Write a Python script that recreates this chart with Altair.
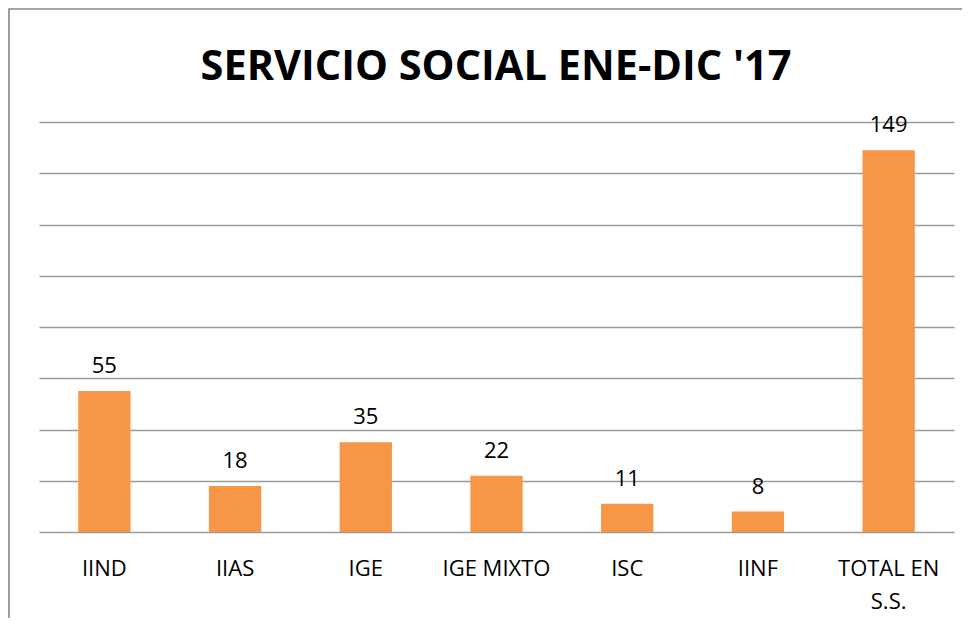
import altair as alt
import pandas as pd

categories = ["IIND", "IIAS", "IGE", "IGE MIXTO", "ISC", "IINF", "TOTAL EN S.S."]
values = [55, 18, 35, 22, 11, 8, 149]
grid_values = [0, 20, 40, 60, 80, 100, 120, 140, 160]
title_text = "SERVICIO SOCIAL ENE-DIC '17"

df = pd.DataFrame({"cat": categories, "val": values})

FONT = "Open Sans"

x_enc = alt.X(
    "cat:N",
    sort=categories,
    scale=alt.Scale(paddingInner=0.6, paddingOuter=0.3),
    axis=alt.Axis(
        title=None,
        ticks=False,
        tickSize=0,
        domain=False,
        grid=False,
        labelAngle=0,
        labelFont=FONT,
        labelFontSize=22,
        labelColor="#000000",
        labelPadding=26,
        labelLineHeight=33,
        labelExpr="datum.label == 'TOTAL EN S.S.' ? ['TOTAL EN', 'S.S.'] : datum.label",
    ),
)
y_enc = alt.Y(
    "val:Q",
    scale=alt.Scale(domain=[0, 160], nice=False),
    axis=alt.Axis(
        title=None,
        values=grid_values,
        labels=False,
        ticks=False,
        domain=False,
        grid=True,
        gridColor="#9a9a9a",
        gridWidth=1.3,
    ),
)

bars = alt.Chart(df).mark_bar(color="#F79646").encode(x=x_enc, y=y_enc)
labels = alt.Chart(df).mark_text(
    font=FONT, fontSize=22, color="#000000", baseline="alphabetic", dy=-18
).encode(x=alt.X("cat:N", sort=categories), y="val:Q", text="val:Q")

border = alt.Chart(alt.Data(values=[{"a": 1}])).mark_rect(
    fill="transparent", stroke="#878787", strokeWidth=1.6
).encode(
    x=alt.value(-30), x2=alt.value(1000), y=alt.value(-113), y2=alt.value(700)
)

title = alt.Chart(alt.Data(values=[{"t": title_text}])).mark_text(
    font=FONT, fontSize=41.5, fontWeight="bold", color="#000000",
    baseline="alphabetic", align="center"
).encode(x=alt.value(457), y=alt.value(-42), text="t:N")

chart = alt.layer(bars, labels, border, title).properties(
    width=915,
    height=410,
    background="white",
    autosize=alt.AutoSizeParams(type="none"),
    padding={"left": 31, "top": 114, "right": 8, "bottom": 86},
).configure_view(strokeWidth=0, stroke="transparent")

chart.save("out.html", embed_options={"renderer": "svg", "actions": False})
